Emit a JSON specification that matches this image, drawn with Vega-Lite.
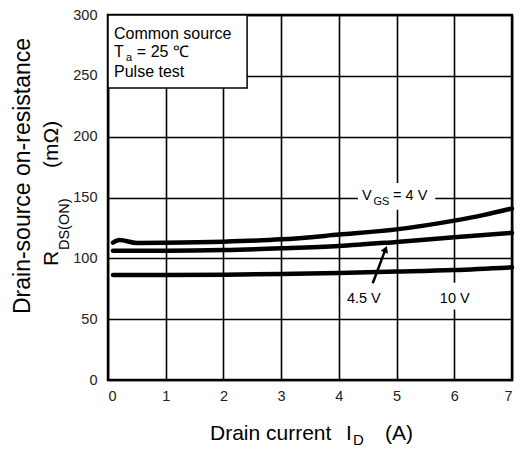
{
  "$schema": "https://vega.github.io/schema/vega-lite/v6.json",
  "width": 404,
  "height": 365,
  "autosize": {"type": "none"},
  "padding": {"left": 108, "top": 15, "right": 8, "bottom": 70},
  "background": "white",
  "config": {
    "view": {"stroke": "black", "strokeWidth": 2.5},
    "font": "Liberation Sans",
    "text": {"font": "Liberation Sans", "color": "black"}
  },
  "datasets": {
    "curves": [
      {"x": 0.087, "y": 112.9, "s": "4 V"},
      {"x": 0.2, "y": 115.0, "s": "4 V"},
      {"x": 0.5, "y": 112.6, "s": "4 V"},
      {"x": 1, "y": 112.8, "s": "4 V"},
      {"x": 2, "y": 113.7, "s": "4 V"},
      {"x": 3, "y": 115.6, "s": "4 V"},
      {"x": 4, "y": 119.5, "s": "4 V"},
      {"x": 5, "y": 123.8, "s": "4 V"},
      {"x": 6, "y": 131.0, "s": "4 V"},
      {"x": 6.5, "y": 135.5, "s": "4 V"},
      {"x": 7, "y": 141.0, "s": "4 V"},
      {"x": 0.087, "y": 106.3, "s": "4.5 V"},
      {"x": 1, "y": 106.3, "s": "4.5 V"},
      {"x": 2, "y": 106.8, "s": "4.5 V"},
      {"x": 3, "y": 108.2, "s": "4.5 V"},
      {"x": 4, "y": 110.1, "s": "4.5 V"},
      {"x": 5, "y": 113.5, "s": "4.5 V"},
      {"x": 6, "y": 117.3, "s": "4.5 V"},
      {"x": 7, "y": 121.0, "s": "4.5 V"},
      {"x": 0.087, "y": 86.3, "s": "10 V"},
      {"x": 1, "y": 86.3, "s": "10 V"},
      {"x": 2, "y": 86.6, "s": "10 V"},
      {"x": 3, "y": 87.1, "s": "10 V"},
      {"x": 4, "y": 88.0, "s": "10 V"},
      {"x": 5, "y": 89.1, "s": "10 V"},
      {"x": 6, "y": 90.4, "s": "10 V"},
      {"x": 7, "y": 92.6, "s": "10 V"}
    ],
    "legendbox": [{"x": 0, "x2": 2.41, "y": 240, "y2": 300}],
    "labelbg": [
      {"x": 4.33, "x2": 5.67, "y": 140, "y2": 162},
      {"x": 5.72, "x2": 6.28, "y": 58, "y2": 80}
    ],
    "arrow": [
      {"x": 4.587, "y": 79.5, "o": 1},
      {"x": 4.8, "y": 106.5, "o": 2}
    ],
    "arrowhead": [{"x": 4.81, "y": 107.5}],
    "legend16": [
      {"x": 0.104, "y": 280.3, "t": "Common source"},
      {"x": 0.104, "y": 265.1, "t": "T"},
      {"x": 0.5, "y": 265.1, "t": "= 25 ℃"},
      {"x": 0.104, "y": 249.3, "t": "Pulse test"}
    ],
    "legendsub": [{"x": 0.31, "y": 262.6, "t": "a"}],
    "main14": [
      {"x": 4.4, "y": 148, "t": "V"},
      {"x": 4.94, "y": 148, "t": "= 4 V"},
      {"x": 4.14, "y": 63.6, "t": "4.5 V"},
      {"x": 5.75, "y": 63.6, "t": "10 V"}
    ],
    "sub10": [
      {"x": 4.6, "y": 143.8, "t": "GS"}
    ],
    "xtitle": [
      {"x": 1.767, "y": -49.3, "t": "Drain current"},
      {"x": 4.124, "y": -49.3, "t": "I"},
      {"x": 4.8, "y": -49.3, "t": "(A)"}
    ],
    "xsub": [{"x": 4.245, "y": -53.4, "t": "D"}],
    "ytitle1": [{"x": -1.352, "y": 167.7, "t": "Drain-source on-resistance"}],
    "ytitle2": [
      {"x": -0.866, "y": 93.7, "t": "R"},
      {"x": -0.866, "y": 174.2, "t": "(mΩ)"}
    ],
    "ysub": [{"x": -0.676, "y": 106.8, "t": "DS(ON)"}]
  },
  "layer": [
    {
      "data": {"name": "legendbox"},
      "mark": {"type": "rect", "fill": "white", "stroke": "black", "strokeWidth": 1.5},
      "encoding": {
        "x": {"field": "x", "type": "quantitative", "scale": {"domain": [0, 7], "nice": false},
          "axis": {"values": [0, 1, 2, 3, 4, 5, 6, 7], "format": "d", "grid": true, "gridColor": "black", "gridWidth": 1.6, "gridOpacity": 1, "domain": false, "ticks": false, "labelFontSize": 14.5, "labelColor": "#222", "labelPadding": 9, "labelFont": "Liberation Sans", "title": null}},
        "x2": {"field": "x2"},
        "y": {"field": "y", "type": "quantitative", "scale": {"domain": [0, 300], "nice": false},
          "axis": {"values": [0, 50, 100, 150, 200, 250, 300], "format": "d", "grid": true, "gridColor": "black", "gridWidth": 1.6, "gridOpacity": 1, "domain": false, "ticks": false, "labelFontSize": 14.5, "labelColor": "#222", "labelPadding": 11, "labelFont": "Liberation Sans", "title": null}},
        "y2": {"field": "y2"}
      }
    },
    {
      "data": {"name": "labelbg"},
      "mark": {"type": "rect", "fill": "white"},
      "encoding": {
        "x": {"field": "x", "type": "quantitative", "scale": {"domain": [0, 7], "nice": false}, "title": null},
        "x2": {"field": "x2"},
        "y": {"field": "y", "type": "quantitative", "scale": {"domain": [0, 300], "nice": false}, "title": null},
        "y2": {"field": "y2"}
      }
    },
    {
      "data": {"name": "curves"},
      "mark": {"type": "line", "color": "black", "strokeWidth": 4.5, "interpolate": "monotone", "strokeCap": "round"},
      "encoding": {
        "x": {"field": "x", "type": "quantitative", "scale": {"domain": [0, 7], "nice": false}, "title": null},
        "y": {"field": "y", "type": "quantitative", "scale": {"domain": [0, 300], "nice": false}, "title": null},
        "detail": {"field": "s"}
      }
    },
    {
      "data": {"name": "arrow"},
      "mark": {"type": "line", "color": "black", "strokeWidth": 2.5},
      "encoding": {
        "x": {"field": "x", "type": "quantitative", "scale": {"domain": [0, 7], "nice": false}, "title": null},
        "y": {"field": "y", "type": "quantitative", "scale": {"domain": [0, 300], "nice": false}, "title": null},
        "order": {"field": "o"}
      }
    },
    {
      "data": {"name": "arrowhead"},
      "mark": {"type": "point", "shape": "triangle-up", "filled": true, "color": "black", "size": 60, "angle": 22, "opacity": 1},
      "encoding": {
        "x": {"field": "x", "type": "quantitative", "scale": {"domain": [0, 7], "nice": false}, "title": null},
        "y": {"field": "y", "type": "quantitative", "scale": {"domain": [0, 300], "nice": false}, "title": null}
      }
    },
    {
      "data": {"name": "legend16"},
      "mark": {"type": "text", "fontSize": 16, "align": "left", "baseline": "alphabetic"},
      "encoding": {
        "x": {"field": "x", "type": "quantitative", "scale": {"domain": [0, 7], "nice": false}, "title": null},
        "y": {"field": "y", "type": "quantitative", "scale": {"domain": [0, 300], "nice": false}, "title": null},
        "text": {"field": "t"}
      }
    },
    {
      "data": {"name": "legendsub"},
      "mark": {"type": "text", "fontSize": 11, "align": "left", "baseline": "alphabetic"},
      "encoding": {
        "x": {"field": "x", "type": "quantitative", "scale": {"domain": [0, 7], "nice": false}, "title": null},
        "y": {"field": "y", "type": "quantitative", "scale": {"domain": [0, 300], "nice": false}, "title": null},
        "text": {"field": "t"}
      }
    },
    {
      "data": {"name": "main14"},
      "mark": {"type": "text", "fontSize": 14.5, "align": "left", "baseline": "alphabetic"},
      "encoding": {
        "x": {"field": "x", "type": "quantitative", "scale": {"domain": [0, 7], "nice": false}, "title": null},
        "y": {"field": "y", "type": "quantitative", "scale": {"domain": [0, 300], "nice": false}, "title": null},
        "text": {"field": "t"}
      }
    },
    {
      "data": {"name": "sub10"},
      "mark": {"type": "text", "fontSize": 11, "align": "left", "baseline": "alphabetic"},
      "encoding": {
        "x": {"field": "x", "type": "quantitative", "scale": {"domain": [0, 7], "nice": false}, "title": null},
        "y": {"field": "y", "type": "quantitative", "scale": {"domain": [0, 300], "nice": false}, "title": null},
        "text": {"field": "t"}
      }
    },
    {
      "data": {"name": "xtitle"},
      "mark": {"type": "text", "fontSize": 21, "align": "left", "baseline": "alphabetic"},
      "encoding": {
        "x": {"field": "x", "type": "quantitative", "scale": {"domain": [0, 7], "nice": false}, "title": null},
        "y": {"field": "y", "type": "quantitative", "scale": {"domain": [0, 300], "nice": false}, "title": null},
        "text": {"field": "t"}
      }
    },
    {
      "data": {"name": "xsub"},
      "mark": {"type": "text", "fontSize": 15, "align": "left", "baseline": "alphabetic"},
      "encoding": {
        "x": {"field": "x", "type": "quantitative", "scale": {"domain": [0, 7], "nice": false}, "title": null},
        "y": {"field": "y", "type": "quantitative", "scale": {"domain": [0, 300], "nice": false}, "title": null},
        "text": {"field": "t"}
      }
    },
    {
      "data": {"name": "ytitle1"},
      "mark": {"type": "text", "fontSize": 23, "align": "center", "baseline": "alphabetic", "angle": 270},
      "encoding": {
        "x": {"field": "x", "type": "quantitative", "scale": {"domain": [0, 7], "nice": false}, "title": null},
        "y": {"field": "y", "type": "quantitative", "scale": {"domain": [0, 300], "nice": false}, "title": null},
        "text": {"field": "t"}
      }
    },
    {
      "data": {"name": "ytitle2"},
      "mark": {"type": "text", "fontSize": 21, "align": "left", "baseline": "alphabetic", "angle": 270},
      "encoding": {
        "x": {"field": "x", "type": "quantitative", "scale": {"domain": [0, 7], "nice": false}, "title": null},
        "y": {"field": "y", "type": "quantitative", "scale": {"domain": [0, 300], "nice": false}, "title": null},
        "text": {"field": "t"}
      }
    },
    {
      "data": {"name": "ysub"},
      "mark": {"type": "text", "fontSize": 14.5, "align": "left", "baseline": "alphabetic", "angle": 270},
      "encoding": {
        "x": {"field": "x", "type": "quantitative", "scale": {"domain": [0, 7], "nice": false}, "title": null},
        "y": {"field": "y", "type": "quantitative", "scale": {"domain": [0, 300], "nice": false}, "title": null},
        "text": {"field": "t"}
      }
    }
  ]
}
